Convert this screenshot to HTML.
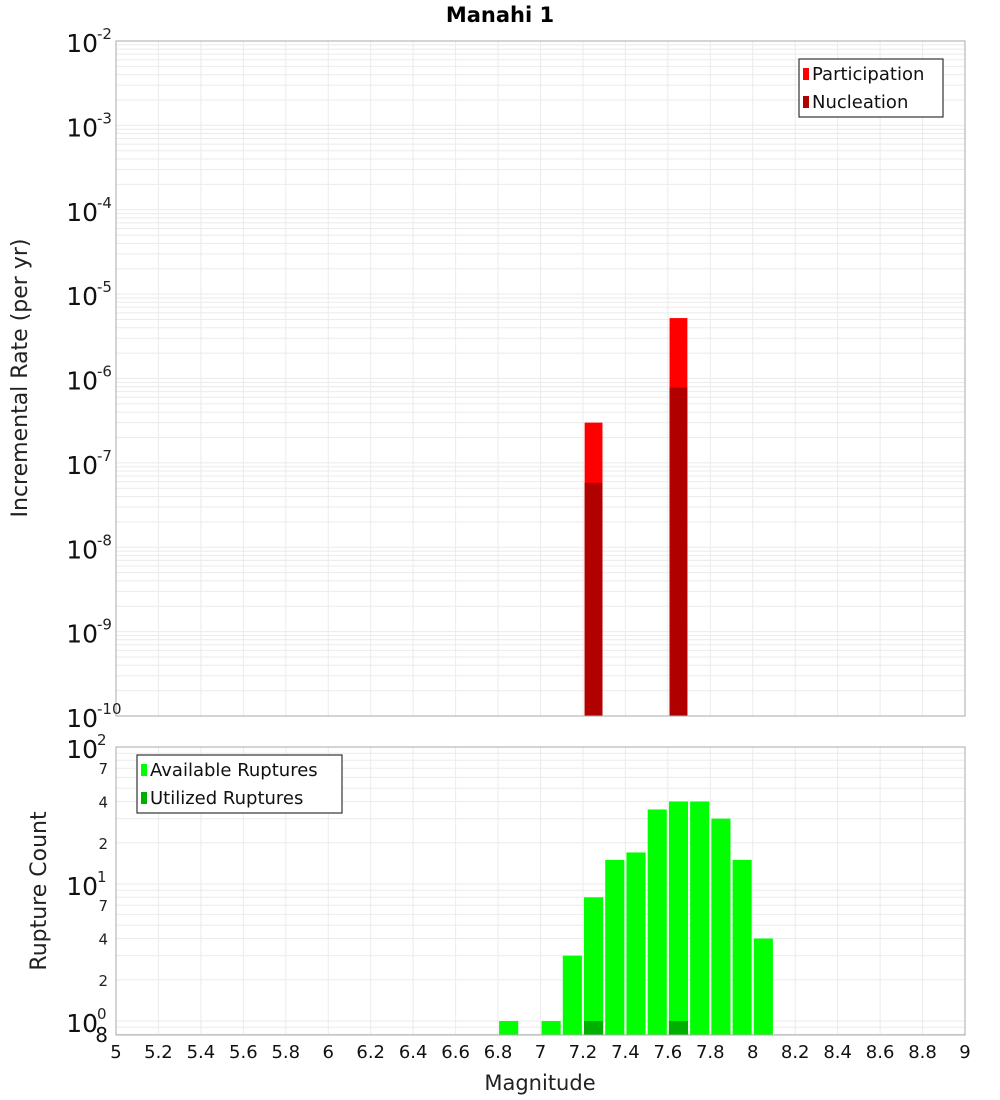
<!DOCTYPE html>
<html><head><meta charset="utf-8"><style>
body{margin:0;background:#fff;}
svg{display:block;font-family:"DejaVu Sans","Liberation Sans",sans-serif;}
</style></head><body>
<svg id="c" width="1000" height="1100" viewBox="0 0 1000 1100" xmlns="http://www.w3.org/2000/svg">
<text x="500" y="22" text-anchor="middle" font-size="21" font-weight="bold">Manahi 1</text>
<text transform="translate(27,378) rotate(-90)" text-anchor="middle" font-size="22" fill="#222">Incremental Rate (per yr)</text>
<text transform="translate(46,891) rotate(-90)" text-anchor="middle" font-size="22" fill="#222">Rupture Count</text>
<text x="540" y="1090" text-anchor="middle" font-size="21" fill="#222">Magnitude</text>
<g id="g"></g>
</svg>
<script>
const binCenters=[6.85,7.05,7.15,7.25,7.35,7.45,7.55,7.65,7.75,7.85,7.95,8.05];
const availableCounts=[1,1,3,8,15,17,35,40,40,30,15,4];
const utilizedMags=[7.25,7.65];
const utilizedCounts=[1,1];
const rateMags=[7.25,7.65];
const participationRates=[3.0e-7,5.2e-6];
const nucleationRates=[5.8e-8,7.8e-7];
const xTicks=[5,5.2,5.4,5.6,5.8,6,6.2,6.4,6.6,6.8,7,7.2,7.4,7.6,7.8,8,8.2,8.4,8.6,8.8,9];
const topExps=[-2,-3,-4,-5,-6,-7,-8,-9,-10];
const botExps=[2,1,0];

const NS="http://www.w3.org/2000/svg";
const G=document.getElementById('g');
const L=116,R=965,T1=41,B1=716,T2=747,B2=1035;
const BW=0.1;
const xs=m=>L+(m-5)/4*(R-L);
const yTop=v=>T1+(-2-Math.log10(v))/8*(B1-T1);
const dec2=(B2-T2)/(2+0.102);
const yBot=v=>T2+(2-Math.log10(v))*dec2;
function el(t,a,p){const e=document.createElementNS(NS,t);for(const k in a)e.setAttribute(k,a[k]);(p||G).appendChild(e);return e;}

[[T1,B1],[T2,B2]].forEach(([t,b],i)=>{
  const bg=el('rect',{x:L,y:t,width:R-L,height:b-t,fill:'#fff'});
  
  
  xTicks.forEach(m=>{el('line',{x1:xs(m),x2:xs(m),y1:t,y2:b,stroke:'#ebebeb','stroke-width':1});});
});
for(let e=-10;e<-2;e++)for(let k=1;k<10;k++){const y=yTop(k*Math.pow(10,e));el('line',{x1:L,x2:R,y1:y,y2:y,stroke:'#ebebeb','stroke-width':1});}
for(let e=-1;e<2;e++)for(let k=1;k<10;k++){const v=k*Math.pow(10,e);const y=yBot(v);if(y>B2||y<T2)continue;el('line',{x1:L,x2:R,y1:y,y2:y,stroke:'#ebebeb','stroke-width':1});}

rateMags.forEach((m,i)=>{
  const x=xs(m-BW*0.42),w=xs(m+BW*0.42)-x;
  let y=yTop(participationRates[i]);
  const p=el('rect',{x:x,y:y,width:w,height:B1-y,fill:'#ff0000'});
  
  
  y=yTop(nucleationRates[i]);
  const n=el('rect',{x:x,y:y,width:w,height:B1-y,fill:'#b00000'});
  
  
});
binCenters.forEach((m,i)=>{
  const x=xs(m-BW*0.45),w=xs(m+BW*0.45)-x,y=yBot(availableCounts[i]);
  const b=el('rect',{x:x,y:y,width:w,height:B2-y,fill:'#00ff00'});
  
  
});
utilizedMags.forEach((m,i)=>{
  const x=xs(m-BW*0.45),w=xs(m+BW*0.45)-x,y=yBot(utilizedCounts[i]);
  const b=el('rect',{x:x,y:y,width:w,height:B2-y,fill:'#00b000'});
  
  
});
[[T1,B1],[T2,B2]].forEach(([t,b])=>{el('rect',{x:L,y:t,width:R-L,height:b-t,fill:'none',stroke:'#aaa','stroke-width':1});});

function powLabel(y,e,name){
  const t=el('text',{x:98,y:y+11,'text-anchor':'end','font-size':25,fill:'#111'});t.textContent='10';
  
  
  const s=el('text',{x:97,y:y-2,'font-size':15,fill:'#222'});s.textContent=String(e);
  
  
}
topExps.forEach(e=>powLabel(yTop(Math.pow(10,e)),e,'top-y-tick-label'));
botExps.forEach(e=>powLabel(yBot(Math.pow(10,e)),e,'bottom-y-tick-label'));
[2,4,7,20,40,70].forEach(v=>{
  const t=el('text',{x:108,y:yBot(v)+6,'text-anchor':'end','font-size':15,fill:'#222'});
  t.textContent=String(v).charAt(0);
  
  
});
{const t=el('text',{x:108,y:1042,'text-anchor':'end','font-size':20,fill:'#111'});t.textContent='8';

}
xTicks.forEach(m=>{
  const t=el('text',{x:xs(m),y:1058,'text-anchor':'middle','font-size':18,fill:'#111'});
  t.textContent=String(m);
  
  
});
function legend(x,y,w,items,name){
  const g=el('g',{});
  
  
  el('rect',{x:x,y:y,width:w,height:58,fill:'#fff',stroke:'#333','stroke-width':1.2},g);
  items.forEach((it,i)=>{
    el('rect',{x:x+4,y:y+9+i*28,width:6,height:12,fill:it[1]},g);
    const t=el('text',{x:x+13,y:y+21+i*28,'font-size':18,fill:'#111'},g);t.textContent=it[0];
    
    
  });
}
legend(799,59,144,[['Participation','#ff0000'],['Nucleation','#b00000']],'top-legend');
legend(137,755,205,[['Available Ruptures','#00ff00'],['Utilized Ruptures','#00b000']],'bottom-legend');
</script>
</body></html>
